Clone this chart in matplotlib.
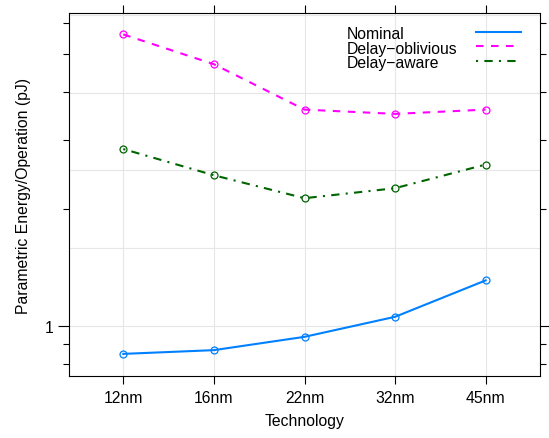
import numpy as np
import matplotlib
matplotlib.use("Agg")
import matplotlib.pyplot as plt
from matplotlib.lines import Line2D

plt.rcParams["font.family"] = ["Liberation Sans", "DejaVu Sans"]
plt.rcParams["font.size"] = 11.3

tech = ["12nm", "16nm", "22nm", "32nm", "45nm"]
nominal = [0.847, 0.866, 0.937, 1.055, 1.309]
delay_oblivious = [5.62, 4.71, 3.60, 3.51, 3.60]
delay_aware = [2.85, 2.44, 2.13, 2.26, 2.60]

series = [
    ("Nominal", nominal, "#0080ff", "-"),
    ("Delay\u2212oblivious", delay_oblivious, "#ff00ff", (0, (3.6, 3.6))),
    ("Delay\u2212aware", delay_aware, "#006400", (0, (1, 3, 4, 3))),
]

fig = plt.figure(figsize=(5.49, 4.39), dpi=100)
ax = fig.add_axes([69 / 549, 1 - 377 / 439, 471 / 549, 363 / 439])

x = np.arange(len(tech))

# light grid like lattice panel.grid
for gy in 10 ** np.arange(-0.2, 0.81, 0.2):
    ax.axhline(gy, color="#e6e6e6", lw=0.8, zorder=0)
for gx in x:
    ax.axvline(gx, color="#e6e6e6", lw=0.8, zorder=0)

for name, vals, col, ls in series:
    ax.plot(x, vals, color=col, linestyle=ls, lw=1.5,
            marker="o", markersize=5, markerfacecolor="none",
            markeredgewidth=0.9, zorder=3)

ax.set_yscale("log")
ax.set_ylim(0.743, 6.38)
ax.set_xlim(-0.6, 4.6)

ax.set_yticks([1])
ax.set_yticklabels(["1"])
ax.set_yticks([0.8, 0.9, 2, 3, 4, 5, 6], minor=True)
ax.yaxis.set_minor_formatter(matplotlib.ticker.NullFormatter())
ax.set_xticks(x)
ax.set_xticklabels(tech)
ax.xaxis.set_minor_locator(matplotlib.ticker.NullLocator())

ax.tick_params(axis="y", which="major", length=8, width=0.8, right=True, pad=3)
ax.tick_params(axis="y", which="minor", length=4.3, width=0.8, right=True)
ax.tick_params(axis="x", which="major", length=6, width=0.8, top=True, pad=4)

for sp in ax.spines.values():
    sp.set_linewidth(0.8)

ax.set_xlabel("Technology", labelpad=6)
ax.set_ylabel("Parametric Energy/Operation (pJ)", labelpad=10)

# key in the upper right, text left-aligned and lines in a column
for i, (name, vals, col, ls) in enumerate(series):
    ly = 0.9485 - i * 0.0405
    ax.text(0.590, ly - 0.017, name, transform=ax.transAxes,
            ha="left", va="baseline")
    ax.add_line(Line2D([0.864, 0.960], [ly, ly], transform=ax.transAxes,
                       color=col, linestyle=ls, lw=1.5))

fig.savefig("out.png", dpi=100)
